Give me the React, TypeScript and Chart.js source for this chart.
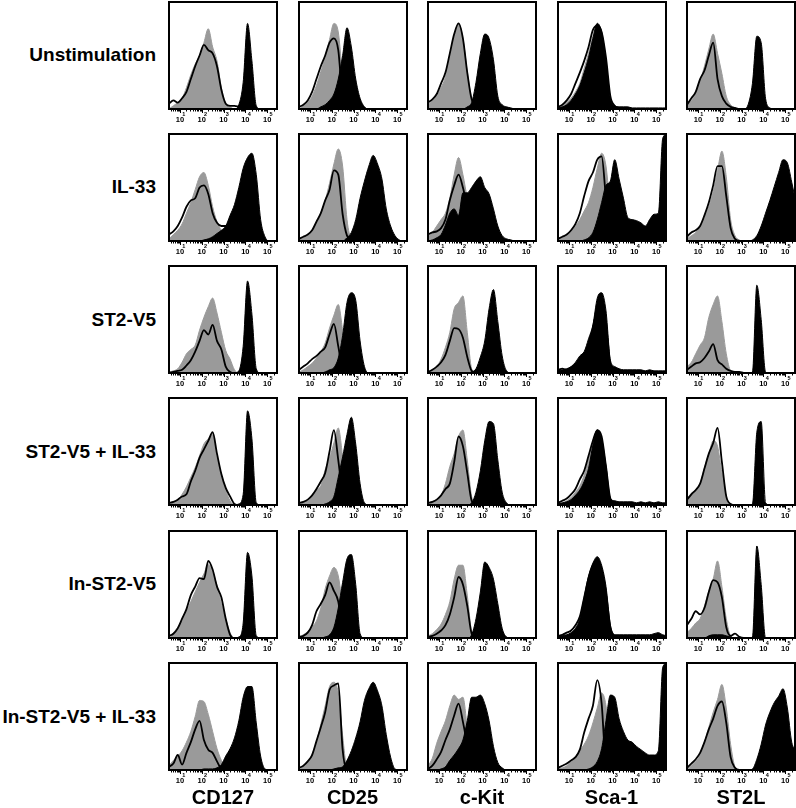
import React, { useEffect, useRef } from 'react';
import { Chart, registerables } from 'chart.js';

Chart.register(...registerables);

// x positions (log10 of fluorescence intensity)
const XS = [0.5, 0.7, 0.9, 1.1, 1.3, 1.5, 1.7, 1.9, 2.1, 2.3, 2.5, 2.7, 2.9, 3.1, 3.3, 3.5, 3.7, 3.9, 4.1, 4.3, 4.5, 4.7, 4.9, 5.1, 5.3, 5.5];

const ROW_LABELS = ['Unstimulation', 'IL-33', 'ST2-V5', 'ST2-V5 + IL-33', 'In-ST2-V5', 'In-ST2-V5 + IL-33'];
const COL_LABELS = ['CD127', 'CD25', 'c-Kit', 'Sca-1', 'ST2L'];
const MAJOR_TICKS = [1, 2, 3, 4, 5];
const TICK_BASE = '10';
const TICK_EXPONENTS = ['1', '2', '3', '4', '5'];
const X_MIN = 0.5;
const X_MAX = 5.45;

// ---- Unstimulation ----
const CD127_UNSTIM_GRAY = [0,3,6,10,20,32,42,50,62,75,58,45,20,5,2,0,0,0,0,0,0,0,0,0,0,0];
const CD127_UNSTIM_LINE = [5,8,6,10,16,28,40,50,60,55,52,40,18,5,3,3,2,1,0,0,0,0,0,0,0,0];
const CD127_UNSTIM_FILL = [0,0,0,0,0,0,0,0,0,0,0,0,0,0,0,0,4,25,80,45,3,0,0,0,0,0];
const CD25_UNSTIM_GRAY = [0,3,6,12,22,35,48,65,80,72,30,5,1,0,0,0,0,0,0,0,0,0,0,0,0,0];
const CD25_UNSTIM_LINE = [2,4,8,16,28,40,50,62,66,55,10,2,0,0,0,0,0,0,0,0,0,0,0,0,0,0];
const CD25_UNSTIM_FILL = [0,0,0,0,0,2,4,8,14,28,50,76,58,28,10,2,0,0,0,0,0,0,0,0,0,0];
const CKIT_UNSTIM_GRAY = [4,8,12,20,30,50,68,80,66,35,10,4,2,0,0,0,0,0,0,0,0,0,0,0,0,0];
const CKIT_UNSTIM_LINE = [6,9,14,24,34,52,70,80,66,34,9,3,1,0,0,0,0,0,0,0,0,0,0,0,0,0];
const CKIT_UNSTIM_FILL = [0,0,0,0,0,0,0,0,0,2,6,25,52,70,66,46,12,4,2,1,0,0,0,0,0,0];
const SCA1_UNSTIM_GRAY = [1,3,6,10,16,24,38,52,68,80,70,40,10,2,0,0,0,0,0,0,0,0,0,0,0,0];
const SCA1_UNSTIM_LINE = [2,4,8,14,24,34,45,58,74,78,72,48,12,3,1,0,0,0,0,0,0,0,0,0,0,0];
const SCA1_UNSTIM_FILL = [1,2,4,8,14,22,34,48,66,80,72,45,10,3,2,2,2,1,1,1,1,1,1,1,1,1];
const ST2L_UNSTIM_GRAY = [5,8,14,26,40,56,70,52,33,12,4,1,0,0,0,0,0,0,0,0,0,0,0,0,0,0];
const ST2L_UNSTIM_LINE = [4,10,16,28,36,50,62,28,12,5,2,1,0,0,0,0,0,0,0,0,0,0,0,0,0,0];
const ST2L_UNSTIM_FILL = [0,0,0,0,0,0,0,0,0,0,0,0,0,0,4,24,68,62,10,1,0,0,0,0,0,0];

// ---- IL-33 ----
const CD127_IL33_GRAY = [2,6,10,16,26,36,48,60,64,52,32,18,10,5,2,0,0,0,0,0,0,0,0,0,0,0];
const CD127_IL33_LINE = [6,9,14,22,32,38,40,50,52,44,26,17,14,14,8,0,0,0,0,0,0,0,0,0,0,0];
const CD127_IL33_FILL = [0,0,0,0,0,0,0,0,1,2,4,7,10,14,24,34,50,68,78,82,62,20,4,0,0,0];
const CD25_IL33_GRAY = [1,3,6,10,16,26,38,54,72,86,70,20,2,0,0,0,0,0,0,0,0,0,0,0,0,0];
const CD25_IL33_LINE = [2,4,6,10,18,26,38,48,66,62,25,5,1,0,0,0,0,0,0,0,0,0,0,0,0,0];
const CD25_IL33_FILL = [0,0,0,0,0,0,0,0,0,0,0,3,8,20,40,56,70,80,72,58,30,14,5,1,0,0];
const CKIT_IL33_GRAY = [4,8,14,20,26,40,62,78,62,40,20,8,3,0,0,0,0,0,0,0,0,0,0,0,0,0];
const CKIT_IL33_LINE = [6,8,9,12,20,38,52,62,50,32,16,6,2,0,0,0,0,0,0,0,0,0,0,0,0,0];
const CKIT_IL33_FILL = [0,1,3,6,15,26,30,24,45,45,50,56,60,50,44,30,14,5,2,1,0,0,0,0,0,0];
const SCA1_IL33_GRAY = [1,3,6,10,14,20,28,36,50,68,82,70,30,4,1,0,0,0,0,0,0,0,0,0,0,0];
const SCA1_IL33_LINE = [2,4,6,10,16,26,42,56,64,76,79,40,10,2,0,0,0,0,0,0,0,0,0,0,0,0];
const SCA1_IL33_FILL = [0,0,0,0,0,0,1,3,8,20,36,52,56,76,58,40,22,20,19,17,14,20,25,26,96,100];
const ST2L_IL33_GRAY = [2,5,8,14,22,32,46,66,84,60,20,5,1,0,0,0,0,0,0,0,0,0,0,0,0,0];
const ST2L_IL33_LINE = [4,8,10,14,24,36,52,70,70,42,12,2,0,0,0,0,0,0,0,0,0,0,0,0,0,0];
const ST2L_IL33_FILL = [0,0,0,0,0,0,0,0,0,0,0,0,0,0,0,1,5,14,26,38,51,64,76,73,55,35];

// ---- ST2-V5 ----
const CD127_V5_GRAY = [1,2,4,10,18,22,26,40,52,62,70,56,38,21,13,3,0,0,0,0,0,0,0,0,0,0];
const CD127_V5_LINE = [0,1,2,3,7,12,20,30,40,36,45,30,22,6,1,0,0,0,0,0,0,0,0,0,0,0];
const CD127_V5_FILL = [0,0,0,0,0,0,0,0,0,0,0,0,0,0,0,0,2,25,86,55,4,0,0,0,0,0];
const CD25_V5_GRAY = [1,3,6,9,14,20,28,42,54,64,40,12,2,0,0,0,0,0,0,0,0,0,0,0,0,0];
const CD25_V5_LINE = [3,6,9,13,16,20,24,36,46,25,3,0,0,0,0,0,0,0,0,0,0,0,0,0,0,0];
const CD25_V5_FILL = [0,0,0,0,0,0,1,3,5,14,35,66,75,68,30,6,0,0,0,0,0,0,0,0,0,0];
const CKIT_V5_GRAY = [1,3,6,13,24,38,60,66,72,38,4,0,0,0,0,0,0,0,0,0,0,0,0,0,0,0];
const CKIT_V5_LINE = [1,3,6,10,17,30,42,41,33,15,2,0,0,0,0,0,0,0,0,0,0,0,0,0,0,0];
const CKIT_V5_FILL = [0,0,0,0,0,0,0,0,0,0,1,4,15,30,60,78,48,16,2,0,0,0,0,0,0,0];
const SCA1_V5_GRAY = [1,2,3,5,8,12,16,24,40,60,66,46,8,1,0,0,0,0,0,0,0,0,0,0,0,0];
const SCA1_V5_LINE = [3,4,3,5,8,12,16,26,42,62,66,46,8,2,1,0,0,0,0,0,0,0,0,0,0,0];
const SCA1_V5_FILL = [2,3,4,6,10,16,20,32,45,70,75,58,12,6,4,3,3,3,3,3,2,3,2,2,2,2];
const ST2L_V5_GRAY = [6,10,18,26,33,52,64,72,48,18,2,0,0,0,0,0,0,0,0,0,0,0,0,0,0,0];
const ST2L_V5_LINE = [3,6,9,10,14,20,27,12,8,4,2,1,1,0,0,0,0,0,0,0,0,0,0,0,0,0];
const ST2L_V5_FILL = [0,0,0,0,0,0,0,0,0,0,0,0,0,0,0,1,82,50,1,0,0,0,0,0,0,0];

// ---- ST2-V5 + IL-33 ----
const CD127_V5IL33_GRAY = [1,3,5,10,17,26,35,46,57,62,66,45,28,14,4,0,0,0,0,0,0,0,0,0,0,0];
const CD127_V5IL33_LINE = [2,3,5,8,10,22,32,44,52,60,68,48,29,16,8,1,0,0,0,0,0,0,0,0,0,0];
const CD127_V5IL33_FILL = [0,0,0,0,0,0,0,0,0,0,0,0,0,0,0,0,1,10,88,62,2,0,0,0,0,0];
const CD25_V5IL33_GRAY = [1,2,4,8,14,18,33,44,58,72,45,10,1,0,0,0,0,0,0,0,0,0,0,0,0,0];
const CD25_V5IL33_LINE = [2,3,5,9,15,22,30,50,70,42,10,1,0,0,0,0,0,0,0,0,0,0,0,0,0,0];
const CD25_V5IL33_FILL = [0,0,0,0,0,0,1,3,8,26,45,66,82,57,20,2,0,0,0,0,0,0,0,0,0,0];
const CKIT_V5IL33_GRAY = [2,3,5,9,20,36,48,64,70,42,8,1,0,0,0,0,0,0,0,0,0,0,0,0,0,0];
const CKIT_V5IL33_LINE = [2,3,5,9,15,20,40,64,55,30,4,0,0,0,0,0,0,0,0,0,0,0,0,0,0,0];
const CKIT_V5IL33_FILL = [0,0,0,0,0,0,0,0,0,0,2,12,32,60,78,76,42,12,2,0,0,0,0,0,0,0];
const SCA1_V5IL33_GRAY = [1,2,4,7,12,18,28,42,60,70,58,36,6,1,0,0,0,0,0,0,0,0,0,0,0,0];
const SCA1_V5IL33_LINE = [2,4,6,10,15,24,32,46,60,70,64,36,6,2,1,0,0,0,0,0,0,0,0,0,0,0];
const SCA1_V5IL33_FILL = [1,2,3,5,9,14,22,34,56,70,62,36,6,4,3,3,3,3,2,3,2,3,2,3,2,2];
const ST2L_V5IL33_GRAY = [6,11,14,20,35,48,60,55,30,8,1,0,0,0,0,0,0,0,0,0,0,0,0,0,0,0];
const ST2L_V5IL33_LINE = [5,10,14,20,34,48,58,72,40,8,1,0,0,0,0,0,0,0,0,0,0,0,0,0,0,0];
const ST2L_V5IL33_FILL = [0,0,0,0,0,0,0,0,0,0,0,0,0,0,0,1,68,78,2,0,0,0,0,0,0,0];

// ---- In-ST2-V5 ----
const CD127_INV5_GRAY = [1,5,10,17,25,34,43,52,60,69,62,49,32,18,5,0,0,0,0,0,0,0,0,0,0,0];
const CD127_INV5_LINE = [2,4,9,18,27,40,48,56,55,72,64,48,38,18,3,0,0,0,0,0,0,0,0,0,0,0];
const CD127_INV5_FILL = [0,0,0,0,0,0,0,0,0,0,0,0,0,0,0,0,1,14,80,58,2,0,0,0,0,0];
const CD25_INV5_GRAY = [1,3,6,10,16,28,46,58,66,58,30,6,1,0,0,0,0,0,0,0,0,0,0,0,0,0];
const CD25_INV5_LINE = [1,2,5,12,25,32,40,52,44,34,6,1,0,0,0,0,0,0,0,0,0,0,0,0,0,0];
const CD25_INV5_FILL = [0,0,0,0,0,0,1,3,10,28,52,74,78,50,4,0,0,0,0,0,0,0,0,0,0,0];
const CKIT_INV5_GRAY = [2,4,8,13,22,34,55,68,68,40,6,0,0,0,0,0,0,0,0,0,0,0,0,0,0,0];
const CKIT_INV5_LINE = [1,2,4,7,12,22,38,57,50,30,4,0,0,0,0,0,0,0,0,0,0,0,0,0,0,0];
const CKIT_INV5_FILL = [0,0,0,0,0,0,0,0,0,0,3,18,43,71,66,55,32,9,1,0,0,0,0,0,0,0];
const SCA1_INV5_GRAY = [1,2,3,4,8,14,30,52,64,70,60,40,8,1,0,0,0,0,0,0,0,0,0,0,0,0];
const SCA1_INV5_LINE = [2,3,5,7,12,20,38,56,68,74,64,42,10,2,1,0,0,0,0,0,0,0,0,0,0,0];
const SCA1_INV5_FILL = [1,2,3,5,9,18,38,58,70,76,68,48,12,3,3,3,3,3,3,3,3,3,4,5,3,2];
const ST2L_INV5_GRAY = [5,9,14,18,30,44,55,72,48,18,2,0,0,0,0,0,0,0,0,0,0,0,0,0,0,0];
const ST2L_INV5_LINE = [12,18,25,22,28,43,54,52,38,10,2,4,1,0,0,0,0,0,0,0,0,0,0,0,0,0];
const ST2L_INV5_FILL = [0,0,0,0,0,2,3,3,3,2,1,0,0,0,0,1,86,50,0,0,0,0,0,0,0,0];

// ---- In-ST2-V5 + IL-33 ----
const CD127_INV5IL33_GRAY = [4,9,13,18,26,36,50,65,64,52,36,20,9,1,0,0,0,0,0,0,0,0,0,0,0,0];
const CD127_INV5IL33_LINE = [3,6,14,5,16,26,38,46,28,19,16,8,1,0,0,0,0,0,0,0,0,0,0,0,0,0];
const CD127_INV5IL33_FILL = [0,0,0,0,0,0,0,0,1,1,1,2,5,13,20,30,46,68,78,78,44,13,1,0,0,0];
const CD25_INV5IL33_GRAY = [1,3,7,15,26,43,60,78,82,72,32,2,0,0,0,0,0,0,0,0,0,0,0,0,0,0];
const CD25_INV5IL33_LINE = [2,4,8,14,27,40,54,75,79,81,19,0,0,0,0,0,0,0,0,0,0,0,0,0,0,0];
const CD25_INV5IL33_FILL = [0,0,0,0,0,0,0,0,1,2,3,9,18,30,45,65,76,82,74,60,33,12,1,0,0,0];
const CKIT_INV5IL33_GRAY = [4,11,25,36,46,60,70,66,68,40,12,2,0,0,0,0,0,0,0,0,0,0,0,0,0,0];
const CKIT_INV5IL33_LINE = [1,4,10,17,28,38,51,62,45,24,6,1,0,0,0,0,0,0,0,0,0,0,0,0,0,0];
const CKIT_INV5IL33_FILL = [0,0,0,1,3,9,14,20,28,46,68,68,70,62,46,22,7,2,0,0,0,0,0,0,0,0];
const SCA1_INV5IL33_GRAY = [1,2,4,8,12,18,24,32,44,58,72,60,20,4,0,0,0,0,0,0,0,0,0,0,0,0];
const SCA1_INV5IL33_LINE = [2,4,6,9,12,19,35,48,60,84,62,4,0,0,0,0,0,0,0,0,0,0,0,0,0,0];
const SCA1_INV5IL33_FILL = [0,0,0,0,0,0,0,1,3,8,20,46,70,68,48,36,28,26,22,19,16,14,14,18,96,100];
const ST2L_INV5IL33_GRAY = [1,4,8,14,26,40,54,66,80,58,24,3,0,0,0,0,0,0,0,0,0,0,0,0,0,0];
const ST2L_INV5IL33_LINE = [2,6,10,16,26,38,48,60,64,44,12,2,0,0,0,0,0,0,0,0,0,0,0,0,0,0];
const ST2L_INV5IL33_FILL = [0,0,0,0,0,0,0,0,0,0,0,0,0,0,0,1,10,24,42,54,63,69,76,58,26,18];

type Panel = { gray: number[]; line: number[]; fill: number[] };
const P = (gray: number[], line: number[], fill: number[]): Panel => ({ gray, line, fill });

const PANELS: Panel[][] = [
  [P(CD127_UNSTIM_GRAY, CD127_UNSTIM_LINE, CD127_UNSTIM_FILL), P(CD25_UNSTIM_GRAY, CD25_UNSTIM_LINE, CD25_UNSTIM_FILL), P(CKIT_UNSTIM_GRAY, CKIT_UNSTIM_LINE, CKIT_UNSTIM_FILL), P(SCA1_UNSTIM_GRAY, SCA1_UNSTIM_LINE, SCA1_UNSTIM_FILL), P(ST2L_UNSTIM_GRAY, ST2L_UNSTIM_LINE, ST2L_UNSTIM_FILL)],
  [P(CD127_IL33_GRAY, CD127_IL33_LINE, CD127_IL33_FILL), P(CD25_IL33_GRAY, CD25_IL33_LINE, CD25_IL33_FILL), P(CKIT_IL33_GRAY, CKIT_IL33_LINE, CKIT_IL33_FILL), P(SCA1_IL33_GRAY, SCA1_IL33_LINE, SCA1_IL33_FILL), P(ST2L_IL33_GRAY, ST2L_IL33_LINE, ST2L_IL33_FILL)],
  [P(CD127_V5_GRAY, CD127_V5_LINE, CD127_V5_FILL), P(CD25_V5_GRAY, CD25_V5_LINE, CD25_V5_FILL), P(CKIT_V5_GRAY, CKIT_V5_LINE, CKIT_V5_FILL), P(SCA1_V5_GRAY, SCA1_V5_LINE, SCA1_V5_FILL), P(ST2L_V5_GRAY, ST2L_V5_LINE, ST2L_V5_FILL)],
  [P(CD127_V5IL33_GRAY, CD127_V5IL33_LINE, CD127_V5IL33_FILL), P(CD25_V5IL33_GRAY, CD25_V5IL33_LINE, CD25_V5IL33_FILL), P(CKIT_V5IL33_GRAY, CKIT_V5IL33_LINE, CKIT_V5IL33_FILL), P(SCA1_V5IL33_GRAY, SCA1_V5IL33_LINE, SCA1_V5IL33_FILL), P(ST2L_V5IL33_GRAY, ST2L_V5IL33_LINE, ST2L_V5IL33_FILL)],
  [P(CD127_INV5_GRAY, CD127_INV5_LINE, CD127_INV5_FILL), P(CD25_INV5_GRAY, CD25_INV5_LINE, CD25_INV5_FILL), P(CKIT_INV5_GRAY, CKIT_INV5_LINE, CKIT_INV5_FILL), P(SCA1_INV5_GRAY, SCA1_INV5_LINE, SCA1_INV5_FILL), P(ST2L_INV5_GRAY, ST2L_INV5_LINE, ST2L_INV5_FILL)],
  [P(CD127_INV5IL33_GRAY, CD127_INV5IL33_LINE, CD127_INV5IL33_FILL), P(CD25_INV5IL33_GRAY, CD25_INV5IL33_LINE, CD25_INV5IL33_FILL), P(CKIT_INV5IL33_GRAY, CKIT_INV5IL33_LINE, CKIT_INV5IL33_FILL), P(SCA1_INV5IL33_GRAY, SCA1_INV5IL33_LINE, SCA1_INV5IL33_FILL), P(ST2L_INV5IL33_GRAY, ST2L_INV5IL33_LINE, ST2L_INV5IL33_FILL)],
];

// layout
const PANEL_W = 108;
const PANEL_H = 107;
const COL_X0 = 169;
const COL_STEP = 129.5;
const ROW_Y0 = 1.5;
const ROW_STEP = 132.3;
const PAD = 4;
const BOTTOM = 17;
const FONT = '"Liberation Sans", Arial, Helvetica, sans-serif';
const GRAY = '#9a9a9a';

const pts = (arr: number[]) => XS.map((x, i) => ({ x, y: arr[i] }));

const frameAxisPlugin = {
  id: 'frameAxis',
  afterDraw(chart: any) {
    const { ctx, chartArea: a } = chart;
    const x = chart.scales.x;
    ctx.save();
    ctx.strokeStyle = '#000';
    ctx.lineWidth = 1;
    for (let d = 0; d <= 5; d++) {
      for (let k = 1; k <= 9; k++) {
        const v = d + Math.log10(k);
        if (v < X_MIN || v > X_MAX) continue;
        const px = Math.round(x.getPixelForValue(v)) + 0.5;
        const len = k === 1 ? 4 : 2.5;
        ctx.beginPath();
        ctx.moveTo(px, a.bottom);
        ctx.lineTo(px, a.bottom + len);
        ctx.stroke();
      }
    }
    ctx.fillStyle = '#000';
    MAJOR_TICKS.forEach((v, i) => {
      const px = x.getPixelForValue(v);
      ctx.font = `bold 7.5px ${FONT}`;
      ctx.textAlign = 'center';
      ctx.textBaseline = 'alphabetic';
      ctx.fillText(TICK_BASE, px, a.bottom + 12.5);
      ctx.font = `bold 5.5px ${FONT}`;
      ctx.textAlign = 'left';
      ctx.fillText(TICK_EXPONENTS[i], px + 2.3, a.bottom + 7);
    });
    ctx.lineWidth = 2;
    ctx.strokeRect(a.left, a.top, a.right - a.left, a.bottom - a.top);
    ctx.restore();
  },
};

function Histogram({ panel, left, top }: { panel: Panel; left: number; top: number }) {
  const ref = useRef<HTMLCanvasElement>(null);
  useEffect(() => {
    if (!ref.current) return;
    const common = { pointRadius: 0, cubicInterpolationMode: 'monotone' as const };
    const chart = new Chart(ref.current, {
      type: 'line',
      data: {
        datasets: [
          { ...common, data: pts(panel.line), borderColor: '#000', borderWidth: 1.8, fill: false, order: 1 },
          { ...common, data: pts(panel.fill), borderColor: '#000', backgroundColor: '#000', borderWidth: 1, fill: 'origin', order: 2 },
          { ...common, data: pts(panel.gray), borderColor: GRAY, backgroundColor: GRAY, borderWidth: 1, fill: 'origin', order: 3 },
        ] as any,
      },
      options: {
        animation: false,
        responsive: false,
        devicePixelRatio: 1,
        events: [],
        layout: { padding: { left: PAD, right: PAD, top: PAD, bottom: BOTTOM } },
        scales: {
          x: { type: 'linear', min: X_MIN, max: X_MAX, display: false },
          y: { type: 'linear', min: 0, max: 100, display: false },
        },
        plugins: { legend: { display: false }, tooltip: { enabled: false } },
      },
      plugins: [frameAxisPlugin],
    });
    return () => chart.destroy();
  }, [panel]);
  return (
    <canvas
      ref={ref}
      width={PANEL_W + 2 * PAD}
      height={PANEL_H + PAD + BOTTOM}
      style={{ position: 'absolute', left: left - PAD, top: top - PAD, width: PANEL_W + 2 * PAD, height: PANEL_H + PAD + BOTTOM }}
    />
  );
}

export default function App() {
  return (
    <div style={{ position: 'absolute', left: 0, top: 0, width: 796, height: 808, background: '#fff', overflow: 'hidden' }}>
      {PANELS.map((row, r) =>
        row.map((panel, c) => (
          <Histogram key={`${r}-${c}`} panel={panel} left={COL_X0 + c * COL_STEP} top={ROW_Y0 + r * ROW_STEP} />
        ))
      )}
      {ROW_LABELS.map((label, r) => (
        <div
          key={label}
          style={{
            position: 'absolute', left: 0, width: 156, textAlign: 'right',
            top: ROW_Y0 + r * ROW_STEP + PANEL_H / 2 - 11, height: 22, lineHeight: '22px',
            fontFamily: FONT, fontWeight: 'bold', fontSize: 19, color: '#000', whiteSpace: 'nowrap',
          }}
        >
          {label}
        </div>
      ))}
      {COL_LABELS.map((label, c) => (
        <div
          key={label}
          style={{
            position: 'absolute', left: COL_X0 + c * COL_STEP, width: PANEL_W, textAlign: 'center',
            top: 786, height: 22, lineHeight: '22px',
            fontFamily: FONT, fontWeight: 'bold', fontSize: 20, color: '#000',
          }}
        >
          {label}
        </div>
      ))}
    </div>
  );
}
